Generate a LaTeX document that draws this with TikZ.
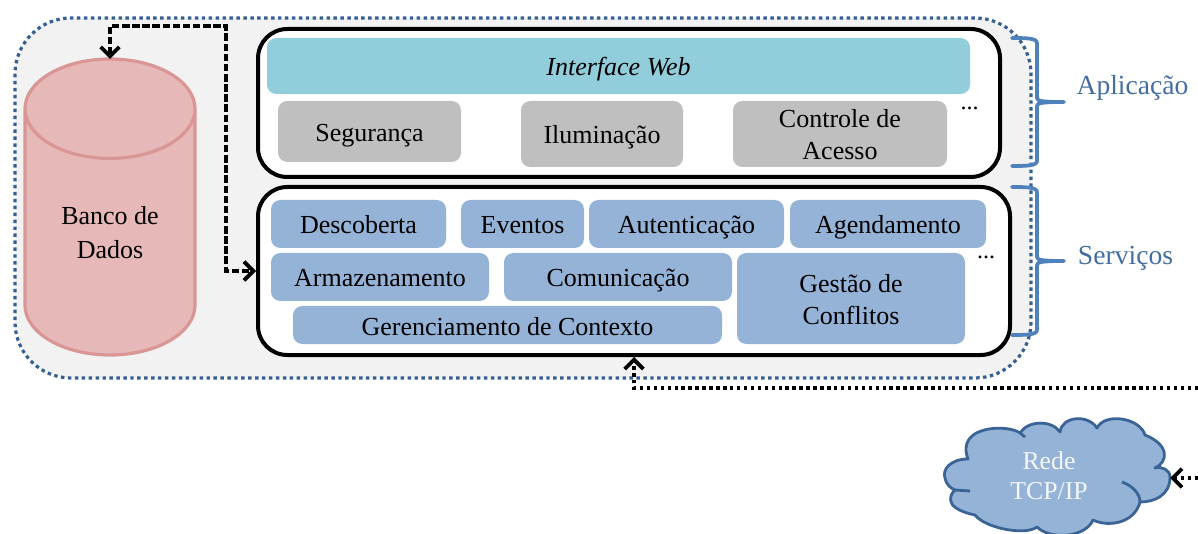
\documentclass[tikz,border=0pt]{standalone}
\usepackage{fontspec}
\setmainfont{Liberation Serif}
\usepackage{tikz}
\usetikzlibrary{arrows.meta,shapes.geometric}
\definecolor{fundo}{HTML}{F2F2F2}
\definecolor{pontilhado}{HTML}{376092}
\definecolor{banco}{HTML}{E6B8B7}
\definecolor{bancoborda}{HTML}{D99694}
\definecolor{web}{HTML}{92CDDC}
\definecolor{cinza}{HTML}{BFBFBF}
\definecolor{servico}{HTML}{95B3D7}
\definecolor{chave}{HTML}{4F81BD}
\definecolor{nuvemborda}{HTML}{3A6496}
\tikzset{x=0.75pt, y=-0.75pt,
  texto/.style={font=\fontsize{19.5}{24}\selectfont, align=center},
  externo/.style={draw=pontilhado, fill=fundo, line width=2.4pt,
    dash pattern=on 2.6pt off 2.6pt, rounded corners=42pt},
  camada/.style={draw=black, fill=white, line width=3pt, rounded corners=22pt,
    inner sep=0pt, outer sep=1.5pt},
  modulo/.style={texto, rounded corners=7pt, inner sep=0pt, outer sep=0pt},
  aplicacao/.style={modulo, fill=cinza},
  servicos/.style={modulo, fill=servico},
  pontos/.style={texto, anchor=base, font=\fontsize{18}{20}\selectfont},
  chaveta/.style={draw=chave, line width=2.8pt, line cap=round, line join=round},
  rotulo/.style={texto, font=\fontsize{20.7}{24}\selectfont, text=chave!85!black},
  ligacao/.style={line width=2.8pt, dash pattern=on 5.6pt off 2pt,
    arrows={Straight Barb[length=7pt,width=14pt,line width=2.8pt]-Straight Barb[length=7pt,width=14pt,line width=2.8pt]}},
  rede/.style={line width=2.6pt, dash pattern=on 2.6pt off 2.6pt,
    -{Straight Barb[length=7pt,width=14pt,line width=2.8pt]}},
  nuvem/.style={draw=nuvemborda, fill=servico, line width=2.1pt, line join=round}
}
\def\SuporteCima{\rule{0pt}{20pt}}
\def\SuporteBaixo{\rule[-5pt]{0pt}{5pt}}
\def\Modulo#1#2#3#4#5#6#7{%
\node (#1) [#2, minimum width=#5*0.75pt, minimum height=#6*0.75pt]
  at ({#3+#5/2},{#4+#6/2}) {\SuporteCima #7\SuporteBaixo};
}
\def\Chave#1#2#3{%
\draw[chaveta] (1012,#1) .. controls (1025,#1) and (1037,#1) .. (1037,#1+5)
  -- (1037,#2-4) .. controls (1037,#2-1) and (1042,#2) .. (1064,#2)
  .. controls (1042,#2) and (1037,#2+1) .. (1037,#2+4)
  -- (1037,#3-5) .. controls (1037,#3) and (1025,#3) .. (1012,#3);
}
\begin{document}
\begin{tikzpicture}
\useasboundingbox (0,0) rectangle (1198,534);
\draw[externo] (15,18) rectangle (1031,378);
\node (banco) [cylinder, shape border rotate=90, aspect=1.02, draw=bancoborda,
  fill=banco, line width=2.4pt, minimum width=170*0.75pt, minimum height=296*0.75pt,
  inner sep=0pt, outer sep=0pt, anchor=shape center, texto,
  font=\fontsize{19.5}{25}\selectfont] at (110,207) {Banco de\\Dados};
\Modulo{app}{camada}{258}{29}{742}{148}{}
\Modulo{servicos}{camada}{258}{187}{752}{168}{}
% aplicacao
\Modulo{web}{modulo, fill=web, font=\fontsize{19.5}{24}\selectfont\itshape}{267}{38}{703}{56}{Interface Web}
\Modulo{seguranca}{aplicacao}{278}{101}{183}{61}{Segurança}
\Modulo{iluminacao}{aplicacao}{521}{101}{162}{66}{Iluminação}
\Modulo{acesso}{aplicacao}{733}{101}{214}{66}{Controle de\\Acesso}
\node (maisapp) [pontos] at (969.5,110) {...};
% servicos
\Modulo{descoberta}{servicos}{271}{200}{175}{48}{Descoberta}
\Modulo{eventos}{servicos}{461}{200}{123}{48}{Eventos}
\Modulo{autenticacao}{servicos}{589}{200}{195}{48}{Autenticação}
\Modulo{agendamento}{servicos}{790}{200}{196}{48}{Agendamento}
\Modulo{armazenamento}{servicos}{271}{253}{218}{48}{Armazenamento}
\Modulo{comunicacao}{servicos}{504}{253}{228}{48}{Comunicação}
\Modulo{conflitos}{servicos}{737}{253}{228}{91}{Gestão de\\Conflitos}
\Modulo{contexto}{servicos}{293}{306}{429}{38}{Gerenciamento de Contexto}
\node (maisserv) [pontos] at (986,259) {...};
% chaves
\Chave{38}{102}{166}
\Chave{187}{261}{335}
\node (aplic) [rotulo] at (1132.5,88) {Aplicação};
\node (serv) [rotulo] at (1125.5,258) {Serviços};
% nuvem
\draw[nuvem] (968,459) .. controls (950,459) and (942,470) .. (945,478)
  .. controls (946,484) and (950,488) .. (955,490)
  .. controls (948,496) and (950,505) .. (956,508)
  .. controls (962,512) and (970,514) .. (975,515)
  .. controls (985,528) and (1025,536) .. (1037,527)
  .. controls (1050,540) and (1085,538) .. (1093,520)
  .. controls (1110,528) and (1135,522) .. (1140,502)
  .. controls (1155,502) and (1170,495) .. (1170,477)
  .. controls (1170,470) and (1162,466) .. (1155,468)
  .. controls (1168,462) and (1170,445) .. (1145,435)
  .. controls (1140,418) and (1105,412) .. (1097,428)
  .. controls (1088,414) and (1062,416) .. (1060,432)
  .. controls (1052,420) and (1028,420) .. (1020,433)
  .. controls (1008,424) and (955,425) .. (968,459) -- cycle;
\draw[nuvem, fill=none] (955,490) -- (970,491);
\draw[nuvem, fill=none] (1122,482) .. controls (1133,486) and (1140,494) .. (1140,502);
\draw[nuvem, fill=none] (1020,433) -- (1025,437);
\node (nuvemcorpo) [minimum width=225*0.75pt, minimum height=112*0.75pt, inner sep=0pt, outer sep=0pt] at (1057.5,478) {};
\node (redetexto) [texto, text=white!90!servico, font=\fontsize{19.3}{22.5}\selectfont] at (1049,476) {Rede\\TCP/IP};
% ligacoes
\coordinate (canto) at (226,26);
\coordinate (bordaum) at (1198,388);
\coordinate (bordadois) at (1198,478);
\draw[ligacao] (banco.north) |- (canto) |- (servicos.west);
\draw[rede] (bordaum) -| (servicos.south);
\draw[rede] (bordadois) -- (nuvemcorpo.east);
\end{tikzpicture}
\end{document}
